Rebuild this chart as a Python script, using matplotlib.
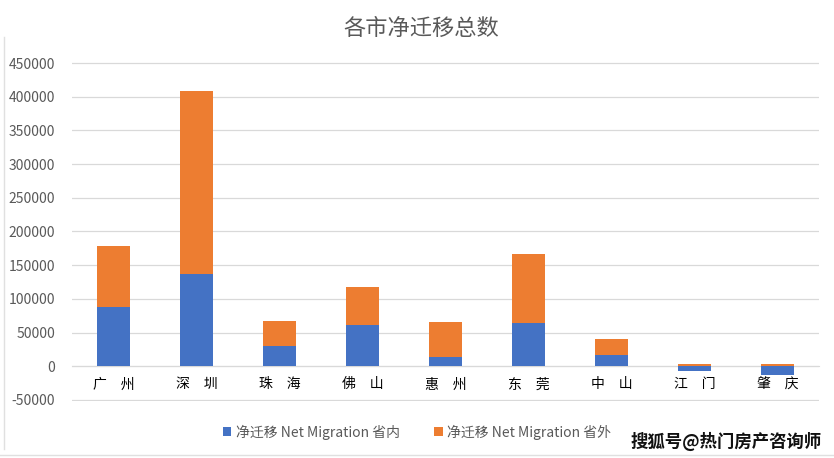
import numpy as np
import matplotlib.pyplot as plt

plt.rcParams['font.family'] = ['Noto Sans CJK SC', 'DejaVu Sans']

cities = ['广　州', '深　圳', '珠　海', '佛　山', '惠　州', '东　莞', '中　山', '江　门', '肇　庆']
inner = [88000, 137000, 30000, 61000, 14000, 64000, 17000, -7000, -13000]
outer = [90000, 272000, 37000, 56000, 51000, 102000, 24000, 3000, 3000]
labels = ['净迁移 Net Migration 省内', '净迁移 Net Migration 省外']
colors = ['#4472C4', '#ED7D31']
yticks = np.arange(-50000, 450001, 50000)

fig = plt.figure(figsize=(8.34, 4.58), dpi=100)
ax = fig.add_axes([72 / 834, 1 - 401 / 458, 747 / 834, 339 / 458])

x = np.arange(len(cities))
inner = np.array(inner)
outer = np.array(outer)
# excel-style stacking: negatives go down from 0, positives up
base_outer = np.where(inner > 0, inner, 0)
ax.bar(x, inner, width=0.4, color=colors[0], label=labels[0], zorder=3)
ax.bar(x, outer, width=0.4, bottom=base_outer, color=colors[1], label=labels[1], zorder=3)

ax.set_xlim(-0.5, len(cities) - 0.5)
ax.set_ylim(-51500, 451500)
ax.set_yticks(yticks)
ax.set_yticklabels([str(v) for v in yticks], fontsize=10, color='#595959')
ax.yaxis.grid(True, color='#D9D9D9', linewidth=0.9, zorder=0)
ax.tick_params(axis='y', length=0, pad=12)

ax.set_xticks(x)
ax.set_xticklabels(cities, fontsize=10.5, color='#595959')
ax.tick_params(axis='x', length=0, pad=8)
ax.spines['bottom'].set_position(('data', 0))
ax.spines['bottom'].set_color('#D9D9D9')
for s in ['top', 'right', 'left']:
    ax.spines[s].set_visible(False)

fig.text(0.505, 1 - 28 / 458, '各市净迁移总数', fontsize=16, color='#595959',
         ha='center', va='center')

fig.legend(loc='center', bbox_to_anchor=(0.5, 1 - 432 / 458), ncol=2, frameon=False,
           fontsize=10, handlelength=0.6, handleheight=0.6, handletextpad=0.3,
           columnspacing=2.5, labelcolor='#595959')

fig.text(0.985, 1 - 441 / 458, '搜狐号@热门房产咨询师', fontsize=12.5, fontweight='bold',
         color='#111111', ha='right', va='center')

# faint frame lines of the screenshot
fig.add_artist(plt.Line2D([4 / 834, 4 / 834], [0.02, 0.92], color='#E0E0E0', lw=1))
fig.add_artist(plt.Line2D([0, 1], [3 / 458, 3 / 458], color='#E0E0E0', lw=1))

plt.savefig('out.png', dpi=100)
